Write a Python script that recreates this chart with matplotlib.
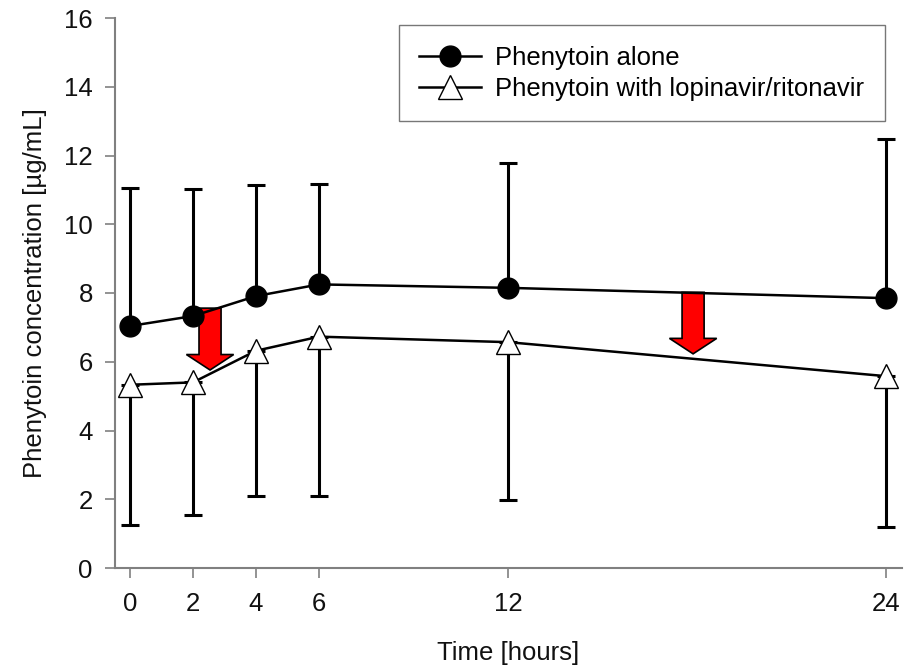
import matplotlib
matplotlib.use("Agg")
import matplotlib.pyplot as plt
from matplotlib.patches import Polygon
import numpy as np

plt.rcParams['font.family'] = ['Liberation Sans', 'DejaVu Sans']

time_h = [0, 2, 4, 6, 12, 24]
alone_mean = [7.04, 7.33, 7.91, 8.25, 8.15, 7.85]
alone_upper = [11.06, 11.03, 11.14, 11.16, 11.79, 12.48]
lpv_mean = [5.33, 5.40, 6.32, 6.73, 6.57, 5.58]
lpv_lower = [1.25, 1.54, 2.10, 2.09, 1.98, 1.18]

xtick_vals = [0, 2, 4, 6, 12, 24]
ytick_vals = [0, 2, 4, 6, 8, 10, 12, 14, 16]

# red arrows (annotation): x centre, top y, tip y
arrow_x = [2.54, 17.87]
arrow_top = [7.56, 8.02]
arrow_tip = [5.76, 6.23]

fig = plt.figure(figsize=(9.15, 6.69), dpi=100)
ax = fig.add_axes([115/915, 1-568/669, 787/915, 550/669])

err_alone = [np.zeros(len(alone_mean)), np.array(alone_upper) - np.array(alone_mean)]
err_lpv = [np.array(lpv_mean) - np.array(lpv_lower), np.zeros(len(lpv_mean))]

ax.errorbar(time_h, alone_mean, yerr=err_alone, fmt='none', ecolor='black',
            elinewidth=2.2, capsize=6.5, capthick=2.2, zorder=2)
ax.errorbar(time_h, lpv_mean, yerr=err_lpv, fmt='none', ecolor='black',
            elinewidth=2.2, capsize=6.5, capthick=2.2, zorder=2)

ax.plot(time_h, alone_mean, color='black', lw=1.8, marker='o', markersize=15,
        markerfacecolor='black', markeredgecolor='black', zorder=4,
        label='Phenytoin alone')
ax.plot(time_h, lpv_mean, color='black', lw=1.8, marker='^', markersize=17,
        markerfacecolor='white', markeredgecolor='black', markeredgewidth=1.0,
        zorder=4, label='Phenytoin with lopinavir/ritonavir')

# arrows as polygons in data units
body_hw = 0.35
head_hw = 0.75
head_len = 0.45
for xc, yt, yb in zip(arrow_x, arrow_top, arrow_tip):
    yh = yb + head_len
    pts = [(xc - body_hw, yt), (xc + body_hw, yt), (xc + body_hw, yh),
           (xc + head_hw, yh), (xc, yb), (xc - head_hw, yh), (xc - body_hw, yh)]
    ax.add_patch(Polygon(pts, closed=True, facecolor='#ff0000',
                         edgecolor='black', lw=1.2, zorder=3))

ax.set_xlim(-0.476, 24.5)
ax.set_ylim(0, 16)
ax.set_xticks(xtick_vals)
ax.set_yticks(ytick_vals)
ax.set_xticklabels([str(v) for v in xtick_vals])
ax.set_yticklabels([str(v) for v in ytick_vals])

for s in ['top', 'right']:
    ax.spines[s].set_visible(False)
for s in ['left', 'bottom']:
    ax.spines[s].set_color('#808080')
    ax.spines[s].set_linewidth(1.5)

ax.tick_params(axis='both', direction='out', length=7, width=1.2, color='#808080',
               labelsize=18.5, labelcolor='#111111')
ax.tick_params(axis='x', pad=10)
ax.tick_params(axis='y', pad=9)

ax.set_xlabel('Time [hours]', fontsize=18.5, labelpad=18, color='#111111')
ax.set_ylabel('Phenytoin concentration [\u00b5g/mL]', fontsize=18.5, labelpad=12,
              color='#111111')

leg = ax.legend(loc='upper right', bbox_to_anchor=(0.978, 0.987), borderaxespad=0,
                fontsize=18.5, frameon=True, fancybox=False, edgecolor='#555555',
                handlelength=2.4, handletextpad=0.55, borderpad=0.8,
                labelspacing=0.27, markerscale=1.0)
leg.get_frame().set_linewidth(1.0)

fig.savefig('out.png', dpi=100)
